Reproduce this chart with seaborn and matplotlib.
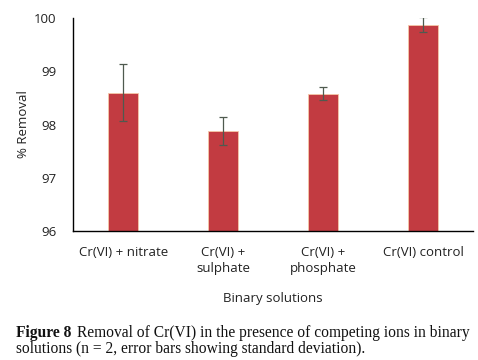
import numpy as np
import pandas as pd
import matplotlib
matplotlib.use("Agg")
import matplotlib.pyplot as plt
import seaborn as sns

categories = ["Cr(VI) + nitrate", "Cr(VI) +\nsulphate", "Cr(VI) +\nphosphate", "Cr(VI) control"]
removal = [98.6, 97.88, 98.58, 99.87]
std_dev = [0.53, 0.26, 0.12, 0.14]
yticks = [96, 97, 98, 99, 100]

sns.set_theme(style="white")
plt.rcParams['font.family'] = ['Open Sans', 'DejaVu Sans']

df = pd.DataFrame({"solution": categories, "removal": removal})

fig = plt.figure(figsize=(4.78, 3.6), dpi=100)
ax = fig.add_axes([0.153, 0.358, 0.837, 0.592])
sns.barplot(data=df, x="solution", y="removal", color="#C23B41", width=0.3,
            edgecolor="#F5C9A8", linewidth=0.6, saturation=1, ax=ax, errorbar=None)
ax.errorbar(np.arange(len(categories)), removal, yerr=std_dev, fmt="none",
            ecolor="#4F5A4F", elinewidth=0.9, capsize=3, capthick=0.9)

ax.set_ylim(96, 100)
ax.set_yticks(yticks)
ax.set_xlim(-0.5, len(categories) - 0.5)
ax.tick_params(axis="y", length=0, labelsize=9.5, colors="#222222", pad=12)
ax.tick_params(axis="x", length=0, labelsize=9.5, colors="#222222", pad=11)
for lbl in ax.get_xticklabels():
    lbl.set_linespacing(1.3)
ax.set_ylabel("% Removal", fontsize=9.5, color="#222222", labelpad=3)
ax.set_xlabel("Binary solutions", fontsize=9.5, color="#222222", labelpad=12)
for s in ["top", "right"]:
    ax.spines[s].set_visible(False)
for s in ["left", "bottom"]:
    ax.spines[s].set_color("black")
    ax.spines[s].set_linewidth(1.0)

serif = ["Liberation Serif", "DejaVu Serif"]
t1 = fig.text(16 / 478, 1 - 337 / 360, "Figure 8", family=serif, weight="bold",
              fontsize=11.2, color="#111111", ha="left", va="baseline")
fig.canvas.draw()
bb = t1.get_window_extent(renderer=fig.canvas.get_renderer())
fig.text((bb.x1 + 6) / 478, 1 - 337 / 360,
         "Removal of Cr(VI) in the presence of competing ions in binary",
         family=serif, fontsize=11.2, color="#111111", ha="left", va="baseline")
fig.text(16 / 478, 1 - 353 / 360,
         "solutions (n = 2, error bars showing standard deviation).",
         family=serif, fontsize=11.2, color="#111111", ha="left", va="baseline")

fig.savefig("out.png", dpi=100, facecolor="white")
